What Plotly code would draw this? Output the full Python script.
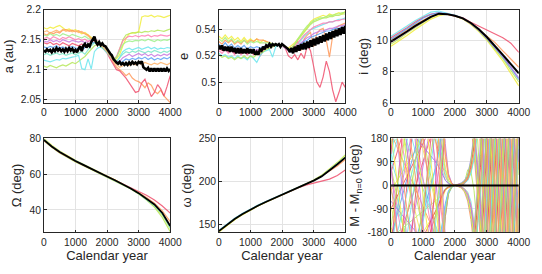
import math
import plotly.graph_objects as go

# ---------------- data ----------------
years_50 = list(range(0, 4001, 50))
years_100 = list(range(0, 4001, 100))
years_250 = list(range(0, 4001, 250))
x_ticks = [0, 1000, 2000, 3000, 4000]

a_nominal = [
    2.132, 2.130, 2.134, 2.131, 2.133, 2.129, 2.134, 2.131, 2.136, 2.132, 2.135, 2.131, 2.134, 2.130, 2.135, 2.131, 2.136, 2.132, 2.135, 2.130,
    2.133, 2.129, 2.135, 2.139, 2.131, 2.140, 2.143, 2.137, 2.142, 2.139, 2.146, 2.150, 2.155, 2.146, 2.142, 2.146, 2.141, 2.144, 2.140, 2.139,
    2.134, 2.131, 2.127, 2.124, 2.118, 2.114, 2.112, 2.110, 2.113, 2.109, 2.111, 2.108, 2.111, 2.108, 2.112, 2.109, 2.113, 2.110, 2.112, 2.109,
    2.113, 2.111, 2.114, 2.104, 2.102, 2.100, 2.103, 2.097, 2.102, 2.097, 2.102, 2.097, 2.102, 2.097, 2.102, 2.097, 2.102, 2.097, 2.102, 2.098,
    2.101]

a_clone_colors = ["#f2ee3c", "#ff9a5c", "#f0506e", "#b6e85a", "#6ee6ee", "#5aa0f5",
                  "#c878e0", "#ff7fb5", "#9ef08c", "#7de8c8", "#ffb36a"]
a_clones = [
    [2.170, 2.168, 2.171, 2.169, 2.172, 2.174, 2.170, 2.166, 2.168, 2.165, 2.167,
     2.164, 2.160, 2.162, 2.158, 2.155, 2.150, 2.146, 2.142, 2.138, 2.132,
     2.126, 2.120, 2.118, 2.125, 2.140, 2.152, 2.160, 2.161, 2.162, 2.163,
     2.188, 2.190, 2.189, 2.191, 2.188, 2.190, 2.189, 2.187, 2.189, 2.191],
    [2.160, 2.158, 2.162, 2.160, 2.163, 2.161, 2.166, 2.167, 2.164, 2.166, 2.163,
     2.165, 2.162, 2.160, 2.158, 2.152, 2.148, 2.145, 2.142, 2.138, 2.133,
     2.125, 2.112, 2.104, 2.100, 2.096, 2.090, 2.094, 2.086, 2.082, 2.080,
     2.076, 2.070, 2.078, 2.074, 2.064, 2.060, 2.066, 2.056, 2.050, 2.045],
    [2.145, 2.143, 2.146, 2.142, 2.144, 2.141, 2.145, 2.143, 2.140, 2.144, 2.142,
     2.140, 2.143, 2.138, 2.141, 2.146, 2.150, 2.146, 2.140, 2.135, 2.128,
     2.118, 2.108, 2.100, 2.098, 2.092, 2.086, 2.078, 2.070, 2.062, 2.064,
     2.078, 2.084, 2.070, 2.055, 2.062, 2.075, 2.068, 2.056, 2.072, 2.090],
    [2.106, 2.104, 2.107, 2.105, 2.103, 2.106, 2.108, 2.106, 2.109, 2.112, 2.110,
     2.114, 2.118, 2.122, 2.128, 2.135, 2.140, 2.142, 2.140, 2.136, 2.130,
     2.124, 2.118, 2.120, 2.135, 2.150, 2.158, 2.160, 2.162, 2.161, 2.163,
     2.162, 2.164, 2.163, 2.165, 2.164, 2.166, 2.165, 2.164, 2.166, 2.168],
    [2.116, 2.114, 2.113, 2.115, 2.117, 2.116, 2.119, 2.118, 2.120, 2.121, 2.122,
     2.124, 2.102, 2.100, 2.118, 2.101, 2.130, 2.136, 2.138, 2.134, 2.128,
     2.122, 2.116, 2.112, 2.122, 2.130, 2.134, 2.136, 2.133, 2.135, 2.137,
     2.134, 2.136, 2.138, 2.135, 2.137, 2.134, 2.136, 2.135, 2.137, 2.136],
    [2.138, 2.136, 2.139, 2.137, 2.140, 2.136, 2.138, 2.135, 2.137, 2.139, 2.136,
     2.135, 2.132, 2.137, 2.140, 2.144, 2.146, 2.143, 2.140, 2.137, 2.131,
     2.125, 2.118, 2.112, 2.110, 2.114, 2.118, 2.116, 2.119, 2.117, 2.120,
     2.118, 2.121, 2.117, 2.120, 2.116, 2.119, 2.117, 2.120, 2.118, 2.121],
    [2.148, 2.146, 2.150, 2.147, 2.149, 2.146, 2.150, 2.148, 2.146, 2.149, 2.147,
     2.146, 2.148, 2.145, 2.147, 2.150, 2.149, 2.146, 2.142, 2.137, 2.131,
     2.124, 2.117, 2.113, 2.114, 2.120, 2.123, 2.126, 2.122, 2.125, 2.127,
     2.124, 2.127, 2.123, 2.126, 2.122, 2.125, 2.123, 2.126, 2.124, 2.127],
    [2.152, 2.154, 2.151, 2.155, 2.153, 2.150, 2.154, 2.152, 2.155, 2.153, 2.150,
     2.152, 2.149, 2.151, 2.147, 2.150, 2.152, 2.148, 2.143, 2.138, 2.131,
     2.124, 2.118, 2.122, 2.135, 2.148, 2.153, 2.156, 2.155, 2.157, 2.155,
     2.157, 2.156, 2.158, 2.155, 2.157, 2.156, 2.158, 2.157, 2.156, 2.158],
    [2.158, 2.156, 2.160, 2.157, 2.159, 2.156, 2.160, 2.158, 2.156, 2.159, 2.157,
     2.155, 2.153, 2.156, 2.152, 2.151, 2.150, 2.147, 2.142, 2.137, 2.131,
     2.124, 2.117, 2.121, 2.132, 2.142, 2.146, 2.148, 2.147, 2.149, 2.148,
     2.150, 2.148, 2.151, 2.149, 2.147, 2.150, 2.148, 2.150, 2.149, 2.151],
    [2.125, 2.127, 2.124, 2.126, 2.128, 2.125, 2.127, 2.124, 2.126, 2.128, 2.125,
     2.127, 2.130, 2.126, 2.134, 2.140, 2.145, 2.143, 2.139, 2.135, 2.129,
     2.123, 2.117, 2.114, 2.120, 2.126, 2.130, 2.128, 2.131, 2.129, 2.132,
     2.130, 2.128, 2.131, 2.129, 2.132, 2.130, 2.128, 2.131, 2.129, 2.132],
    [2.163, 2.165, 2.161, 2.164, 2.166, 2.163, 2.167, 2.164, 2.166, 2.163, 2.165,
     2.162, 2.164, 2.160, 2.156, 2.152, 2.148, 2.144, 2.140, 2.136, 2.130,
     2.122, 2.114, 2.108, 2.104, 2.106, 2.109, 2.107, 2.110, 2.108, 2.111,
     2.109, 2.112, 2.110, 2.108, 2.111, 2.109, 2.112, 2.110, 2.108, 2.111],
]

e_nominal = [
    0.528, 0.525, 0.528, 0.524, 0.527, 0.524, 0.527, 0.523, 0.527, 0.523, 0.526, 0.522, 0.526, 0.522, 0.526, 0.522, 0.525, 0.522, 0.526, 0.522, 0.525,
    0.522, 0.525, 0.521, 0.523, 0.521, 0.525, 0.524, 0.527, 0.525, 0.528, 0.527, 0.529, 0.527, 0.529, 0.528, 0.529, 0.528, 0.529, 0.527, 0.529,
    0.528, 0.527, 0.526, 0.525, 0.523, 0.526, 0.522, 0.527, 0.523, 0.528, 0.524, 0.529, 0.525, 0.530, 0.525, 0.531, 0.526, 0.532, 0.527, 0.533,
    0.528, 0.534, 0.529, 0.535, 0.530, 0.536, 0.531, 0.537, 0.532, 0.538, 0.533, 0.539, 0.534, 0.540, 0.535, 0.541, 0.536, 0.542, 0.537, 0.543]

e_clone_colors = ["#f0506e", "#f2ee3c", "#ff9a5c", "#6ee6ee", "#b6e85a", "#c878e0",
                  "#5aa0f5", "#ff7fb5", "#a8f07a"]
e_clones = [
    [0.526, 0.524, 0.526, 0.523, 0.525, 0.522, 0.525, 0.522, 0.524, 0.521, 0.524,
     0.521, 0.523, 0.520, 0.524, 0.526, 0.528, 0.527, 0.529, 0.528, 0.528,
     0.526, 0.520, 0.518, 0.521, 0.517, 0.522, 0.518, 0.528, 0.524, 0.512,
     0.500, 0.496, 0.504, 0.516, 0.508, 0.494, 0.485, 0.492, 0.500, 0.496],
    [0.535, 0.533, 0.536, 0.533, 0.535, 0.532, 0.534, 0.531, 0.534, 0.531, 0.533,
     0.531, 0.533, 0.530, 0.532, 0.531, 0.530, 0.529, 0.529, 0.528, 0.528,
     0.527, 0.526, 0.528, 0.530, 0.533, 0.536, 0.539, 0.542, 0.546, 0.548,
     0.549, 0.550, 0.551, 0.550, 0.552, 0.551, 0.552, 0.553, 0.552, 0.554],
    [0.531, 0.529, 0.532, 0.530, 0.532, 0.529, 0.531, 0.529, 0.532, 0.530, 0.532,
     0.531, 0.533, 0.532, 0.532, 0.531, 0.530, 0.529, 0.529, 0.528, 0.528,
     0.527, 0.525, 0.526, 0.529, 0.531, 0.524, 0.533, 0.536, 0.538, 0.527,
     0.537, 0.540, 0.541, 0.532, 0.519, 0.535, 0.541, 0.543, 0.544, 0.545],
    [0.522, 0.520, 0.521, 0.519, 0.520, 0.518, 0.520, 0.518, 0.519, 0.517, 0.520,
     0.518, 0.515, 0.520, 0.523, 0.524, 0.525, 0.519, 0.527, 0.528, 0.528,
     0.527, 0.525, 0.524, 0.526, 0.529, 0.532, 0.535, 0.537, 0.540, 0.541,
     0.542, 0.543, 0.544, 0.545, 0.546, 0.546, 0.547, 0.548, 0.548, 0.549],
    [0.521, 0.519, 0.520, 0.518, 0.519, 0.517, 0.519, 0.518, 0.520, 0.518, 0.520,
     0.519, 0.521, 0.522, 0.523, 0.525, 0.526, 0.527, 0.528, 0.528, 0.528,
     0.527, 0.525, 0.525, 0.528, 0.532, 0.535, 0.538, 0.541, 0.544, 0.546,
     0.547, 0.548, 0.549, 0.549, 0.550, 0.550, 0.551, 0.551, 0.552, 0.552],
    [0.527, 0.525, 0.527, 0.524, 0.526, 0.524, 0.526, 0.523, 0.525, 0.523, 0.525,
     0.523, 0.525, 0.524, 0.526, 0.527, 0.528, 0.528, 0.529, 0.528, 0.528,
     0.526, 0.524, 0.524, 0.526, 0.528, 0.530, 0.532, 0.534, 0.535, 0.537,
     0.538, 0.539, 0.539, 0.540, 0.541, 0.541, 0.542, 0.543, 0.543, 0.544],
    [0.529, 0.527, 0.530, 0.527, 0.529, 0.526, 0.528, 0.526, 0.528, 0.525, 0.527,
     0.526, 0.527, 0.526, 0.527, 0.528, 0.529, 0.529, 0.529, 0.528, 0.528,
     0.526, 0.524, 0.523, 0.525, 0.527, 0.529, 0.531, 0.532, 0.534, 0.535,
     0.536, 0.537, 0.538, 0.539, 0.539, 0.540, 0.541, 0.541, 0.542, 0.542],
    [0.524, 0.522, 0.525, 0.522, 0.524, 0.521, 0.524, 0.521, 0.523, 0.521, 0.523,
     0.522, 0.524, 0.523, 0.525, 0.527, 0.528, 0.528, 0.529, 0.528, 0.528,
     0.526, 0.524, 0.524, 0.527, 0.530, 0.533, 0.536, 0.538, 0.540, 0.542,
     0.543, 0.544, 0.545, 0.545, 0.546, 0.546, 0.547, 0.547, 0.548, 0.548],
    [0.533, 0.531, 0.534, 0.531, 0.533, 0.530, 0.532, 0.530, 0.532, 0.529, 0.531,
     0.530, 0.531, 0.530, 0.530, 0.530, 0.530, 0.529, 0.529, 0.528, 0.528,
     0.527, 0.525, 0.526, 0.529, 0.533, 0.537, 0.540, 0.543, 0.545, 0.547,
     0.548, 0.549, 0.549, 0.550, 0.551, 0.551, 0.552, 0.552, 0.553, 0.553],
]

i_nominal = [9.95, 10.25, 10.6, 10.95, 11.25, 11.55, 11.75, 11.72, 11.62, 11.45, 11.15, 10.75, 10.25, 9.7, 9.1, 8.5, 7.9]
i_clone_colors = ["#f2ee3c", "#6ee6ee", "#b6e85a", "#f0506e", "#ff9a5c", "#5aa0f5", "#c878e0"]
i_clones = [
    [9.65, 9.98, 10.35, 10.72, 11.05, 11.4, 11.62, 11.72, 11.6, 11.4, 11.05, 10.6, 10.05, 9.4, 8.7, 7.9, 7.1],
    [10.3, 10.6, 10.95, 11.3, 11.6, 11.85, 11.92, 11.8, 11.65, 11.45, 11.15, 10.7, 10.2, 9.6, 9.0, 8.3, 7.6],
    [9.8, 10.12, 10.5, 10.85, 11.2, 11.5, 11.72, 11.74, 11.62, 11.42, 11.1, 10.65, 10.1, 9.5, 8.85, 8.1, 7.35],
    [10.2, 10.5, 10.85, 11.2, 11.5, 11.72, 11.8, 11.72, 11.62, 11.48, 11.2, 10.95, 10.75, 10.45, 10.2, 9.85, 9.25],
    [10.05, 10.35, 10.7, 11.05, 11.35, 11.6, 11.72, 11.7, 11.6, 11.42, 11.12, 10.72, 10.3, 9.9, 9.35, 8.85, 8.3],
    [10.1, 10.42, 10.78, 11.12, 11.45, 11.7, 11.82, 11.75, 11.63, 11.44, 11.12, 10.68, 10.15, 9.55, 8.95, 8.25, 7.5],
    [9.9, 10.2, 10.55, 10.9, 11.25, 11.55, 11.75, 11.73, 11.62, 11.44, 11.12, 10.7, 10.18, 9.6, 9.0, 8.3, 7.6],
]

node_nominal = [79.2, 75.5, 72.4, 69.7, 67.4, 65.2, 62.9, 60.8, 58.7, 56.6, 54.4, 52.0, 49.4, 46.5, 43.1, 38.3, 31.0]
node_clone_colors = ["#f2ee3c", "#b6e85a", "#f0506e", "#ff9a5c", "#6ee6ee"]
node_clones = [
    [80.0, 76.2, 73.0, 70.2, 67.8, 65.5, 63.2, 61.0, 58.9, 56.8, 54.5, 52.0, 49.2, 46.0, 42.2, 37.0, 29.5],
    [78.7, 75.0, 71.9, 69.2, 66.9, 64.8, 62.6, 60.5, 58.5, 56.4, 54.2, 51.7, 48.9, 45.6, 41.6, 35.8, 27.8],
    [79.0, 75.3, 72.2, 69.5, 67.2, 65.0, 62.8, 60.7, 58.7, 56.6, 54.5, 52.5, 50.6, 48.2, 45.6, 42.2, 38.2],
    [79.3, 75.6, 72.5, 69.8, 67.5, 65.3, 63.0, 60.9, 58.8, 56.7, 54.5, 52.1, 49.7, 47.0, 43.8, 39.5, 33.5],
    [79.5, 75.8, 72.7, 69.9, 67.6, 65.4, 63.1, 61.0, 58.9, 56.8, 54.5, 52.0, 49.2, 46.1, 42.5, 37.5, 30.0],
]

peri_nominal = [142.6, 150.0, 156.5, 162.4, 167.6, 172.3, 176.6, 180.6, 184.5, 188.5, 192.5, 196.7, 201.1, 206.0, 212.8, 220.0, 227.8]
peri_clone_colors = ["#f0506e", "#b6e85a", "#ff9a5c", "#f2ee3c", "#6ee6ee"]
peri_clones = [
    [143.0, 150.3, 156.8, 162.6, 167.8, 172.5, 176.8, 180.8, 184.7, 188.6, 192.5, 195.8, 198.0, 200.5, 202.8, 207.0, 213.5],
    [142.0, 149.5, 156.1, 162.0, 167.3, 172.1, 176.4, 180.4, 184.3, 188.3, 192.5, 197.0, 201.8, 207.2, 214.5, 222.0, 231.0],
    [142.8, 150.2, 156.7, 162.5, 167.7, 172.4, 176.7, 180.7, 184.6, 188.6, 192.6, 196.8, 201.0, 206.5, 212.5, 218.0, 225.5],
    [141.5, 149.0, 155.7, 161.7, 167.1, 171.9, 176.3, 180.4, 184.4, 188.4, 192.6, 197.0, 201.6, 207.0, 214.2, 221.5, 229.5],
    [143.5, 151.0, 157.4, 163.2, 168.4, 173.0, 177.2, 181.1, 184.9, 188.8, 192.7, 196.9, 201.3, 206.5, 213.6, 220.8, 228.6],
]

# mean anomaly difference (unwrapped, deg) at 100-year steps
M_nominal = [0] * 41
M_clone_colors = ["#f0506e", "#6ee6ee", "#f2ee3c", "#b6e85a", "#c878e0", "#ff9a5c", "#5aa0f5",
                  "#ff7fb5", "#9ef08c", "#7de8c8", "#e8465f", "#f5e35a", "#6ee6ee", "#b070e8",
                  "#f0506e", "#f2ee3c", "#6ee6ee", "#c878e0", "#b6e85a", "#ff9a5c"]
M_clones = [
    [-670, -630, -590, -550, -510, -470, -430, -390, -350, -310, -270, -230, -190, -150, -110, -70, -35, -15, -8, -3, 0,
     3, 8, 15, 30, 80, 160, 300, 480, 700, 950, 1200, 1450, 1700, 1950, 2200, 2450, 2700, 2950, 3200, 3450],
    [820, 780, 740, 700, 655, 610, 565, 520, 475, 430, 385, 340, 295, 250, 200, 140, 60, 20, 8, 3, 0,
     -2, -6, -12, -25, -60, -140, -260, -420, -620, -850, -1100, -1360, -1620, -1880, -2140, -2400, -2660, -2920, -3180, -3440],
    [-380, -360, -340, -320, -300, -280, -260, -240, -220, -200, -180, -160, -140, -120, -100, -80, -50, -20, -8, -2, 0,
     2, 5, 10, 22, 55, 110, 200, 330, 500, 700, 920, 1150, 1390, 1630, 1870, 2110, 2350, 2590, 2830, 3070],
    [1150, 1090, 1030, 970, 910, 850, 790, 730, 670, 610, 550, 490, 430, 370, 300, 220, 130, 60, 20, 5, 0,
     -1, -4, 10, 60, 55, -20, -160, -360, -600, -860, -1130, -1400, -1670, -1940, -2210, -2480, -2750, -3020, -3290, -3560],
    [-1300, -1235, -1170, -1105, -1040, -975, -910, -845, -780, -715, -650, -585, -520, -455, -385, -300, -190, -80, -25, -6, 0,
     4, 10, 20, 40, 100, 200, 340, 520, 740, 990, 1260, 1540, 1820, 2100, 2380, 2660, 2940, 3220, 3500, 3780],
    [560, 532, 504, 476, 448, 420, 392, 364, 336, 308, 280, 252, 224, 196, 168, 130, 80, 35, 10, 2, 0,
     -3, -10, -25, -60, -130, -240, -390, -580, -800, -1040, -1290, -1540, -1790, -2040, -2290, -2540, -2790, -3040, -3290, -3540],
    [-920, -875, -830, -785, -740, -695, -650, -605, -560, -515, -470, -425, -380, -335, -290, -230, -150, -70, -20, -4, 0,
     -2, -8, -20, -50, -110, -210, -350, -530, -740, -970, -1210, -1450, -1690, -1930, -2170, -2410, -2650, -2890, -3130, -3370],
    [1500, 1425, 1350, 1275, 1200, 1125, 1050, 975, 900, 825, 750, 675, 600, 525, 445, 350, 230, 110, 35, 8, 0,
     2, 6, 14, 35, 90, 180, 310, 480, 690, 930, 1180, 1440, 1700, 1960, 2220, 2480, 2740, 3000, 3260, 3520],
    [-200, -190, -180, -170, -160, -150, -140, -130, -120, -110, -100, -90, -80, -70, -60, -48, -30, -12, -4, -1, 0,
     -3, -9, -20, -45, -100, -190, -320, -490, -700, -940, -1190, -1440, -1690, -1940, -2190, -2440, -2690, -2940, -3190, -3440],
    [700, 665, 630, 595, 560, 525, 490, 455, 420, 385, 350, 315, 280, 245, 210, 170, 110, 45, 12, 3, 0,
     1, 4, 9, 20, 50, 110, 210, 350, 530, 740, 970, 1210, 1450, 1690, 1930, 2170, 2410, 2650, 2890, 3130],
    [-450, -425, -400, -375, -350, -325, -300, -275, -250, -225, -200, -175, -150, -125, -100, -70, -40, -15, -5, -1, 0,
     0, 2, 6, 25, 70, 150, 270, 430, 630, 860, 1110, 1370, 1630, 1890, 2150, 2410, 2670, 2930, 3190, 3450],
    [1000, 950, 900, 850, 800, 750, 700, 650, 600, 550, 500, 450, 400, 350, 300, 240, 160, 70, 20, 4, 0,
     -1, -5, -12, -30, -75, -150, -260, -410, -600, -820, -1060, -1310, -1560, -1810, -2060, -2310, -2560, -2810, -3060, -3310],
    [-1700, -1615, -1530, -1445, -1360, -1275, -1190, -1105, -1020, -935, -850, -765, -680, -595, -505, -400, -260, -120, -35, -8, 0,
     3, 9, 18, 40, 95, 185, 315, 485, 695, 935, 1190, 1450, 1710, 1970, 2230, 2490, 2750, 3010, 3270, 3530],
    [300, 285, 270, 255, 240, 225, 210, 195, 180, 165, 150, 135, 120, 105, 90, 70, 45, 20, 6, 1, 0,
     -2, -7, -16, -38, -85, -170, -300, -470, -680, -920, -1170, -1430, -1690, -1950, -2210, -2470, -2730, -2990, -3250, -3510],
    [-2400, -2280, -2160, -2040, -1920, -1800, -1680, -1560, -1440, -1320, -1200, -1080, -960, -840, -700, -520, -300, -120, -30, -6, 0,
     2, 6, 15, 35, 85, 170, 300, 470, 680, 920, 1170, 1430, 1690, 1950, 2210, 2470, 2730, 2990, 3250, 3510],
    [2000, 1905, 1810, 1715, 1620, 1525, 1430, 1335, 1240, 1145, 1050, 955, 860, 765, 660, 520, 330, 140, 40, 8, 0,
     -3, -9, -20, -46, -105, -200, -335, -510, -720, -960, -1210, -1460, -1710, -1960, -2210, -2460, -2710, -2960, -3210, -3460],
    [-1000, -950, -900, -850, -800, -750, -700, -650, -600, -550, -500, -450, -400, -350, -300, -240, -160, -80, -25, -5, 0,
     1, 3, 8, 18, 45, 100, 190, 320, 490, 690, 910, 1140, 1380, 1620, 1860, 2100, 2340, 2580, 2820, 3060],
    [2600, 2470, 2340, 2210, 2080, 1950, 1820, 1690, 1560, 1430, 1300, 1170, 1040, 910, 770, 600, 380, 160, 45, 10, 0,
     -2, -6, -14, -32, -75, -150, -270, -430, -630, -860, -1110, -1370, -1630, -1890, -2150, -2410, -2670, -2930, -3190, -3450],
    [-1600, -1520, -1440, -1360, -1280, -1200, -1120, -1040, -960, -880, -800, -720, -640, -560, -475, -375, -245, -110, -30, -6, 0,
     2, 7, 16, 36, 88, 175, 305, 475, 685, 925, 1175, 1435, 1695, 1955, 2215, 2475, 2735, 2995, 3255, 3515],
    [1800, 1710, 1620, 1530, 1440, 1350, 1260, 1170, 1080, 990, 900, 810, 720, 630, 535, 420, 270, 120, 35, 7, 0,
     1, 4, 10, 24, 60, 125, 225, 365, 545, 760, 995, 1240, 1490, 1740, 1990, 2240, 2490, 2740, 2990, 3240],
]


def wrapped_path(xs, vs):
    """Draw straight segments between samples, taken modulo 360 into [-180, 180)."""
    def w(v):
        return (v + 180) % 360 - 180
    px, py = [xs[0]], [w(vs[0])]
    for k in range(len(xs) - 1):
        x0, v0, x1, v1 = xs[k], vs[k], xs[k + 1], vs[k + 1]
        if v1 > v0:
            b = 180 + 360 * math.floor((v0 - 180) / 360 + 1)
            while b <= v1:
                xb = x0 + (b - v0) / (v1 - v0) * (x1 - x0)
                px += [xb, None, xb]
                py += [180, None, -180]
                b += 360
        elif v1 < v0:
            b = 180 + 360 * math.floor((v0 - 180) / 360)
            while b > v1:
                xb = x0 + (b - v0) / (v1 - v0) * (x1 - x0)
                px += [xb, None, xb]
                py += [-180, None, 180]
                b -= 360
        px.append(x1)
        py.append(w(v1))
    return px, py


# ---------------- figure ----------------
W, H = 542, 274
fig = go.Figure()

TXT = "#262626"
FONT = "Liberation Sans, Arial, Helvetica, sans-serif"
TICK_SIZE = 10.3
TITLE_SIZE = 13
cols = [(42, 172), (222, 352), (399, 530.5)]
rows = [(5, 102), (139, 237)]


def add_lines(n, xs, clones, colors, nominal_x, nominal, wclone=1.2, wnom=2.0):
    for c, col in zip(clones, colors):
        fig.add_trace(go.Scatter(x=xs, y=c, mode="lines", line=dict(color=col, width=wclone),
                                 opacity=0.85, xaxis=f"x{n}", yaxis=f"y{n}", showlegend=False,
                                 hoverinfo="skip"))
    fig.add_trace(go.Scatter(x=nominal_x, y=nominal, mode="lines", line=dict(color="black", width=wnom),
                             xaxis=f"x{n}", yaxis=f"y{n}", showlegend=False, hoverinfo="skip"))


add_lines(1, years_100, a_clones, a_clone_colors, years_50, a_nominal, wnom=2.6)
add_lines(2, years_100, e_clones, e_clone_colors, years_50, e_nominal, wnom=2.6)
add_lines(3, years_250, i_clones, i_clone_colors, years_250, i_nominal)
add_lines(4, years_250, node_clones, node_clone_colors, years_250, node_nominal, wnom=1.8)
add_lines(5, years_250, peri_clones, peri_clone_colors, years_250, peri_nominal, wnom=1.8)

for c, col in zip(M_clones, M_clone_colors):
    px, py = wrapped_path(years_100, c)
    fig.add_trace(go.Scatter(x=px, y=py, mode="lines", line=dict(color=col, width=1.0), opacity=0.85,
                             xaxis="x6", yaxis="y6", showlegend=False, hoverinfo="skip"))
fig.add_trace(go.Scatter(x=years_100, y=M_nominal, mode="lines", line=dict(color="black", width=2),
                         xaxis="x6", yaxis="y6", showlegend=False, hoverinfo="skip"))

panels = [
    (1, 0, 0, [2.0445, 2.2], [2.05, 2.1, 2.15, 2.2], ["2.05", "2.1", "2.15", "2.2"], "a (au)", None),
    (2, 1, 0, [0.4841, 0.5552], [0.5, 0.52, 0.54], ["0.5", "0.52", "0.54"], "e", None),
    (3, 2, 0, [6, 12], [6, 8, 10, 12], ["6", "8", "10", "12"], "i (deg)", None),
    (4, 0, 1, [27.4, 80], [40, 60, 80], ["40", "60", "80"], "Ω (deg)", "Calendar year"),
    (5, 1, 1, [141, 250], [150, 200, 250], ["150", "200", "250"], "ω (deg)", "Calendar year"),
    (6, 2, 1, [-180, 180], [-180, -90, 0, 90, 180], ["-180", "-90", "0", "90", "180"],
     "M - M<sub>n=0</sub> (deg)", "Calendar year"),
]

layout = {}
for n, ci, ri, yr, yt, ytt, ytitle, xtitle in panels:
    x0, x1 = cols[ci]
    y0, y1 = rows[ri]
    common = dict(showgrid=True, gridcolor="#e3e3e3", gridwidth=1, zeroline=False, showline=True,
                  mirror=True, linecolor=TXT, linewidth=0.8, ticks="inside", ticklen=3,
                  tickcolor=TXT, tickwidth=0.8, tickfont=dict(size=TICK_SIZE, color=TXT, family=FONT))
    xa = dict(common, domain=[x0 / W, x1 / W], range=[0, 4000], tickvals=x_ticks, anchor=f"y{n}")
    if xtitle:
        xa["title"] = dict(text=xtitle, font=dict(size=TITLE_SIZE, color=TXT, family=FONT), standoff=4)
    layout[f"xaxis{n}"] = xa
    layout[f"yaxis{n}"] = dict(common, domain=[1 - y1 / H, 1 - y0 / H], range=yr, tickvals=yt,
                               ticktext=ytt, anchor=f"x{n}",
                               title=dict(text=ytitle, font=dict(size=TITLE_SIZE, color=TXT, family=FONT),
                                          standoff=4))

fig.update_layout(width=W, height=H, margin=dict(l=0, r=0, t=0, b=0), paper_bgcolor="white",
                  plot_bgcolor="white", font=dict(family=FONT, color=TXT), **layout)

fig.write_html("out.html", config={"displayModeBar": False},
               post_script="document.body.style.margin='0';document.body.style.padding='0';")
